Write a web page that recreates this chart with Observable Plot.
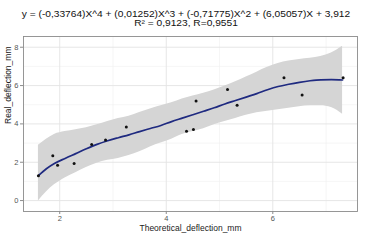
<!DOCTYPE html>
<html>
<head>
<meta charset="utf-8">
<script src="https://cdn.jsdelivr.net/npm/d3@7"></script>
<script src="https://cdn.jsdelivr.net/npm/@observablehq/plot@0.6"></script>
<style>
  html, body { margin: 0; padding: 0; background: #fff; }
  #wrap { width: 372px; height: 241px; overflow: hidden; font-family: "Liberation Sans", Arial, sans-serif; }
  #title { height: 32px; box-sizing: border-box; padding-top: 11px; position: relative; }
  #title .inner { transform: scale(1, 0.8); transform-origin: 50% 0; text-align: center; font-size: 10.2px; line-height: 10.8px; color: #111; }
  #title .inner div { white-space: nowrap; }
  svg { display: block; }
</style>
</head>
<body>
<div id="wrap">
  <div id="title">
    <div class="inner">
      <div>y = (-0,33764)X^4 + (0,01252)X^3 + (-0,71775)X^2 + (6,05057)X + 3,912</div>
      <div>R² = 0,9123, R=0,9551</div>
    </div>
  </div>
  <div id="chart"></div>
</div>
<script>
// Observed points
const pointX = [1.60, 1.87, 1.96, 2.27, 2.60, 2.86, 3.25, 4.38, 4.51, 4.56, 5.15, 5.33, 6.21, 6.55, 7.32];
const pointY = [1.30, 2.34, 1.84, 1.93, 2.93, 3.16, 3.84, 3.62, 3.71, 5.20, 5.80, 4.97, 6.41, 5.51, 6.41];

// Smooth fit and confidence band
const fitX  = [1.60, 1.75, 1.90, 2.10, 2.30, 2.50, 2.70, 2.90, 3.10, 3.30, 3.50, 3.70, 3.90, 4.10, 4.30, 4.50, 4.70, 4.90, 5.10, 5.30, 5.50, 5.70, 5.90, 6.10, 6.30, 6.50, 6.70, 6.90, 7.10, 7.31];
const fitY  = [1.30, 1.66, 1.93, 2.20, 2.45, 2.70, 2.93, 3.12, 3.28, 3.43, 3.60, 3.76, 3.92, 4.12, 4.30, 4.48, 4.66, 4.84, 5.04, 5.22, 5.40, 5.58, 5.78, 5.95, 6.07, 6.17, 6.25, 6.30, 6.31, 6.29];
const lowY  = [-0.02, 0.45, 0.82, 1.18, 1.45, 1.72, 1.95, 2.10, 2.20, 2.35, 2.55, 2.80, 3.00, 3.20, 3.45, 3.60, 3.75, 3.95, 4.12, 4.28, 4.45, 4.58, 4.66, 4.74, 4.82, 4.90, 4.95, 4.95, 4.85, 4.50];
const highY = [2.88, 3.20, 3.45, 3.60, 3.70, 3.80, 3.95, 4.12, 4.28, 4.40, 4.60, 4.78, 4.95, 5.10, 5.30, 5.45, 5.60, 5.77, 5.98, 6.20, 6.45, 6.70, 6.95, 7.15, 7.28, 7.36, 7.42, 7.52, 7.70, 8.05];

// Axes
const xTicks = [2, 4, 6];
const xMinor = [3, 5, 7];
const yTicks = [0, 2, 4, 6, 8];
const yMinor = [1, 3, 5, 7];
const xTitle = "Theoretical_deflection_mm";
const yTitle = "Real_deflection_mm";

const points = pointX.map((x, i) => ({x, y: pointY[i]}));
const fit = fitX.map((x, i) => ({x, y: fitY[i], lo: lowY[i], hi: highY[i]}));

const chart = Plot.plot({
  width: 372,
  height: 209,
  marginTop: 4,
  marginBottom: 30,
  marginLeft: 23,
  marginRight: 15,
  style: {fontFamily: "Liberation Sans, Arial, sans-serif", background: "#fff"},
  x: {domain: [1.32, 7.59]},
  y: {domain: [-0.57, 8.56]},
  marks: [
    Plot.gridX(xMinor, {stroke: "#f0f0f0", strokeOpacity: 1, strokeWidth: 0.6}),
    Plot.gridY(yMinor, {stroke: "#f0f0f0", strokeOpacity: 1, strokeWidth: 0.6}),
    Plot.gridX(xTicks, {stroke: "#e3e3e3", strokeOpacity: 1, strokeWidth: 0.9}),
    Plot.gridY(yTicks, {stroke: "#e3e3e3", strokeOpacity: 1, strokeWidth: 0.9}),
    Plot.areaY(fit, {x: "x", y1: "lo", y2: "hi", fill: "#d5d5d5", curve: "monotone-x"}),
    Plot.line(fit, {x: "x", y: "y", stroke: "#1f2a80", strokeWidth: 1.7, curve: "monotone-x"}),
    Plot.dot(points, {x: "x", y: "y", r: 1.5, fill: "#111", stroke: "none"}),
    Plot.frame({stroke: "#8c8c8c", strokeWidth: 0.9}),
    Plot.axisX(xTicks, {tickSize: 3, tickPadding: 1.5, fontSize: 7.5, color: "#555", stroke: "#8c8c8c", label: null}),
    Plot.axisY(yTicks, {tickSize: 3, tickPadding: 2, fontSize: 7.5, color: "#555", stroke: "#8c8c8c", label: null}),
    Plot.text([xTitle], {frameAnchor: "bottom", dy: 19, fontSize: 8.5, fill: "#222", text: d => d}),
    Plot.text([yTitle], {frameAnchor: "left", dx: -15, rotate: -90, fontSize: 8.5, fill: "#222", text: d => d})
  ]
});
document.getElementById("chart").appendChild(chart);
</script>
</body>
</html>
